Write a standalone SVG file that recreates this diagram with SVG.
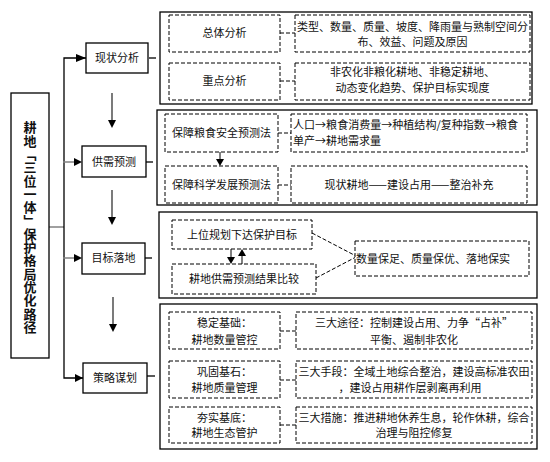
<svg xmlns="http://www.w3.org/2000/svg" width="550" height="462" viewBox="0 0 550 462">
<style>
text{font-family:"Noto Sans CJK SC","Liberation Sans",sans-serif;font-size:11px;fill:#111}
.c{text-anchor:middle}
.box{fill:#fff;stroke:#000;stroke-width:1.3}
.cont{fill:none;stroke:#000;stroke-width:1.3}
.dash{fill:#fff;stroke:#000;stroke-width:1;stroke-dasharray:4 2}
.dl{fill:none;stroke:#000;stroke-width:1;stroke-dasharray:4 2}
.ln{fill:none;stroke:#000;stroke-width:1.3}
.gl{fill:none;stroke:#808080;stroke-width:1.5}
.ah{fill:#000}
</style>
<rect width="550" height="462" fill="#fff"/>
<g id="connectors">
  <line class="gl" x1="49" y1="227" x2="64" y2="227"/>
  <polyline class="ln" points="86,58 64,58 64,378 83,378"/>
  <line class="gl" x1="63" y1="162" x2="75" y2="162"/>
  <line class="gl" x1="63" y1="258" x2="75" y2="258"/>
  <polygon class="ah" points="86,58 76,54 76,62"/>
  <polygon class="ah" points="82,162 74,158 74,166"/>
  <polygon class="ah" points="82,258 74,254 74,262"/>
  <polygon class="ah" points="83,378 75,374 75,382"/>
  <line x1="112" y1="93" x2="112" y2="121" stroke="#333" stroke-width="1.3"/>
  <polygon class="ah" points="112,128 108,120 116,120"/>
  <line x1="112" y1="190" x2="112" y2="218" stroke="#333" stroke-width="1.3"/>
  <polygon class="ah" points="112,225 108,217 116,217"/>
  <line x1="113" y1="297" x2="113" y2="325" stroke="#333" stroke-width="1.3"/>
  <polygon class="ah" points="113,332 109,324 117,324"/>
  <line class="ln" x1="149" y1="58" x2="156" y2="58"/>
  <line class="ln" x1="146" y1="162" x2="153" y2="162"/>
  <line class="ln" x1="145" y1="258" x2="152" y2="258"/>
  <line class="ln" x1="147" y1="376" x2="155" y2="376"/>
  <line class="dl" x1="280" y1="33" x2="295" y2="33"/>
  <line class="dl" x1="280" y1="81" x2="295" y2="81"/>
  <line class="dl" x1="278" y1="133" x2="291" y2="133"/>
  <line class="dl" x1="278" y1="185" x2="291" y2="185"/>
  <line x1="220" y1="152" x2="220" y2="160" stroke="#000" stroke-width="1"/>
  <polygon class="ah" points="220,166 216,159 224,159"/>
  <line x1="231" y1="249" x2="231" y2="258" stroke="#000" stroke-width="1"/>
  <polygon class="ah" points="231,264 227,257 235,257"/>
  <line x1="242" y1="264" x2="242" y2="255" stroke="#000" stroke-width="1"/>
  <polygon class="ah" points="242,249 238,256 246,256"/>
  <line class="dl" x1="312" y1="233" x2="356" y2="256"/>
  <line class="dl" x1="316" y1="278" x2="356" y2="257"/>
  <line class="dl" x1="280" y1="331" x2="296" y2="331"/>
  <line class="dl" x1="280" y1="380" x2="296" y2="380"/>
  <line class="dl" x1="280" y1="425" x2="296" y2="425"/>
</g>
<g id="root">
  <rect class="box" x="11" y="93" width="38" height="265"/>
  <text x="30" y="121" writing-mode="vertical-rl" style="font-size:13px;font-weight:bold;letter-spacing:0.3px">耕地「三位一体」保护格局优化路径</text>
</g>
<g id="n1">
  <rect class="box" x="86" y="43" width="62" height="30"/>
  <text class="c" x="117" y="62">现状分析</text>
</g>
<g id="n2">
  <rect class="box" x="82" y="146" width="64" height="31"/>
  <text class="c" x="114" y="166">供需预测</text>
</g>
<g id="n3">
  <rect class="box" x="82" y="243" width="63" height="31"/>
  <text class="c" x="113.5" y="262">目标落地</text>
</g>
<g id="n4">
  <rect class="box" x="83" y="363" width="64" height="30"/>
  <text class="c" x="115" y="382">策略谋划</text>
</g>
<g id="g1">
  <rect class="cont" x="160" y="12" width="372" height="92"/>
  <rect class="dash" x="169" y="15" width="111" height="37"/>
  <text class="c" x="224.5" y="37">总体分析</text>
  <rect class="dash" x="295" y="15" width="235" height="37"/>
  <text class="c" x="412.5" y="31">类型、数量、质量、坡度、降雨量与熟制空间分</text>
  <text class="c" x="412.5" y="46">布、效益、问题及原因</text>
  <rect class="dash" x="169" y="63" width="111" height="37"/>
  <text class="c" x="224.5" y="85">重点分析</text>
  <rect class="dash" x="295" y="63" width="235" height="37"/>
  <text class="c" x="412.5" y="76">非农化非粮化耕地、非稳定耕地、</text>
  <text class="c" x="412.5" y="92">动态变化趋势、保护目标实现度</text>
</g>
<g id="g2">
  <rect class="cont" x="157" y="110" width="380" height="95"/>
  <rect class="dash" x="165" y="114" width="113" height="38"/>
  <text class="c" x="221.5" y="137">保障粮食安全预测法</text>
  <rect class="dash" x="291" y="114" width="236" height="38"/>
  <text x="293" y="129" textLength="225" lengthAdjust="spacingAndGlyphs">人口→粮食消费量→种植结构/复种指数→粮食</text>
  <text x="293" y="145">单产→耕地需求量</text>
  <rect class="dash" x="165" y="166" width="113" height="37"/>
  <text class="c" x="221.5" y="189">保障科学发展预测法</text>
  <rect class="dash" x="291" y="166" width="236" height="37"/>
  <text class="c" x="409" y="189">现状耕地——建设占用——整治补充</text>
</g>
<g id="g3">
  <rect class="cont" x="159" y="212" width="378" height="86"/>
  <rect class="dash" x="172" y="220" width="140" height="29"/>
  <text class="c" x="242" y="239">上位规划下达保护目标</text>
  <rect class="dash" x="172" y="264" width="144" height="30"/>
  <text class="c" x="244" y="283">耕地供需预测结果比较</text>
  <rect class="dash" x="355" y="241" width="174" height="35"/>
  <text class="c" x="433" y="263">数量保足、质量保优、落地保实</text>
</g>
<g id="g4">
  <rect class="cont" x="160" y="304" width="377" height="145"/>
  <rect class="dash" x="169" y="312" width="111" height="37"/>
  <text class="c" x="224.5" y="327">稳定基础：</text>
  <text class="c" x="224.5" y="344">耕地数量管控</text>
  <rect class="dash" x="296" y="312" width="236" height="37"/>
  <text class="c" x="414" y="327">三大途径：控制建设占用、力争“占补”</text>
  <text class="c" x="414" y="344">平衡、遏制非农化</text>
  <rect class="dash" x="169" y="361" width="111" height="37"/>
  <text class="c" x="224.5" y="376">巩固基石：</text>
  <text class="c" x="224.5" y="392">耕地质量管理</text>
  <rect class="dash" x="296" y="361" width="236" height="37"/>
  <text class="c" x="414" y="376">三大手段：全域土地综合整治，建设高标准农田</text>
  <text class="c" x="410" y="392">，建设占用耕作层剥离再利用</text>
  <rect class="dash" x="169" y="407" width="111" height="36"/>
  <text class="c" x="224.5" y="422">夯实基底：</text>
  <text class="c" x="224.5" y="437">耕地生态管护</text>
  <rect class="dash" x="296" y="407" width="236" height="36"/>
  <text class="c" x="414" y="422">三大措施：推进耕地休养生息，轮作休耕，综合</text>
  <text class="c" x="414" y="437">治理与阻控修复</text>
</g>
</svg>
